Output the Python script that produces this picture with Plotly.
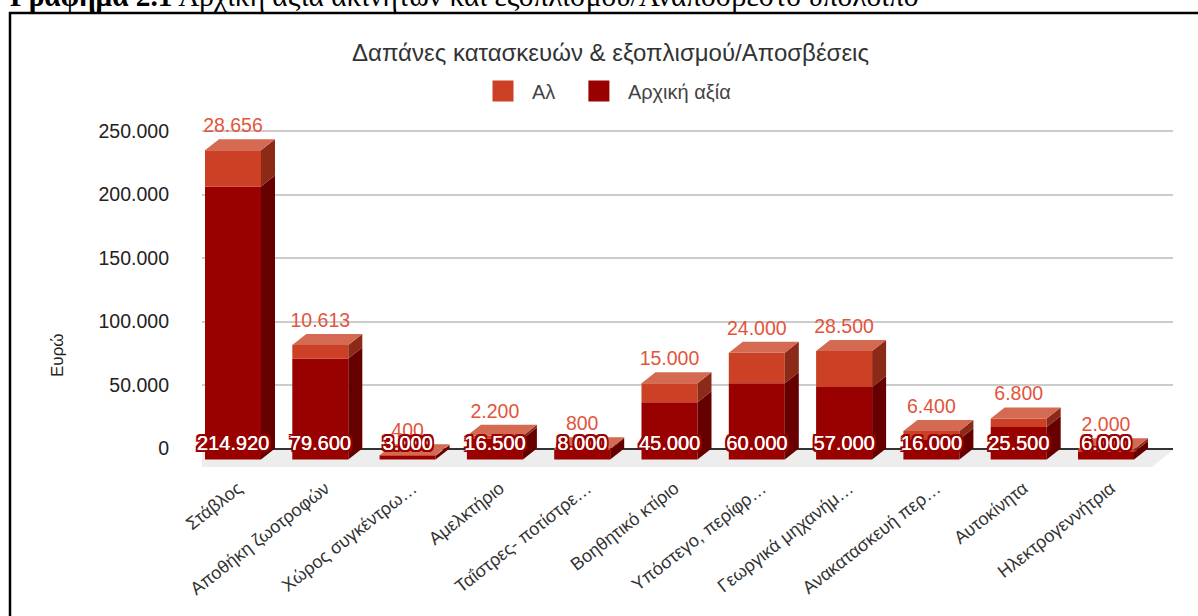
import plotly.graph_objects as go

categories = ["Στάβλος", "Αποθήκη ζωοτροφών", "Χώρος συγκέντρω…", "Αμελκτήριο", "Ταΐστρες- ποτίστρε…",
              "Βοηθητικό κτίριο", "Υπόστεγο, περίφρ…", "Γεωργικά μηχανήμ…", "Ανακατασκευή περ…",
              "Αυτοκίνητα", "Ηλεκτρογεννήτρια"]
initial_value = [214920, 79600, 3000, 16500, 8000, 45000, 60000, 57000, 16000, 25500, 6000]
al_value = [28656, 10613, 400, 2200, 800, 15000, 24000, 28500, 6400, 6800, 2000]
y_ticks = [0, 50000, 100000, 150000, 200000, 250000]

W, H = 1198, 616
FONT = "Liberation Sans"
RED, DARK = "#cc4125", "#990000"
RED_TOP, RED_SIDE, DARK_SIDE = "#d46a52", "#8a2a17", "#660000"

# pixel geometry of the plot area
PX_L, PX_R, PX_T, PX_B = 202, 1173, 131, 468.5
PX_TOP_ROOM = 100           # room above the top gridline so the tallest label is kept
PX_ZERO = 448.5
UNIT_PER_PX = 250000 / (PX_ZERO - PX_T)
X_PER_PX = 1 / 87.3
X0_PX = 233
DX = 14 * X_PER_PX          # 3D depth on x
DY = 11 * UNIT_PER_PX       # 3D depth on y
BAR_W = 56 * X_PER_PX

idx = list(range(len(categories)))
fmt = lambda v: f"{v:,}".replace(",", ".")
tops = [a + b for a, b in zip(initial_value, al_value)]


def side_faces(lo, hi):
    xs, ys = [], []
    for i, a, b in zip(idx, lo, hi):
        r = i + BAR_W / 2
        xs += [r, r + DX, r + DX, r, r, None]
        ys += [a - DY, a, b, b - DY, a - DY, None]
    return xs, ys


def top_faces(t):
    xs, ys = [], []
    for i, v in zip(idx, t):
        l, r = i - BAR_W / 2, i + BAR_W / 2
        xs += [l, r, r + DX, l + DX, l, None]
        ys += [v - DY, v - DY, v, v, v - DY, None]
    return xs, ys


fig = go.Figure()
fig.add_bar(x=idx, y=initial_value, base=[-DY] * len(idx), width=BAR_W,
            marker=dict(color=DARK, line_width=0), showlegend=False, name="Αρχική αξία")
fig.add_bar(x=idx, y=al_value, base=[v - DY for v in initial_value], width=BAR_W,
            marker=dict(color=RED, line_width=0), showlegend=False, name="Αλ")

sx, sy = side_faces([0] * len(idx), initial_value)
fig.add_scatter(x=sx, y=sy, mode="lines", fill="toself", fillcolor=DARK_SIDE, line_width=0,
                showlegend=False, hoverinfo="skip")
sx, sy = side_faces(initial_value, tops)
fig.add_scatter(x=sx, y=sy, mode="lines", fill="toself", fillcolor=RED_SIDE, line_width=0,
                showlegend=False, hoverinfo="skip")
tx, ty = top_faces(tops)
fig.add_scatter(x=tx, y=ty, mode="lines", fill="toself", fillcolor=RED_TOP, line_width=0,
                showlegend=False, hoverinfo="skip")

# data labels
fig.add_scatter(x=idx, y=[v + 12 * UNIT_PER_PX for v in tops], mode="text",
                text=[fmt(v) for v in al_value], textposition="middle center", cliponaxis=False,
                textfont=dict(family=FONT, size=19.5, color="#e2553c"), showlegend=False)
offs = [(-2, 0), (2, 0), (0, -2), (0, 2), (-2, -2), (2, -2), (-2, 2), (2, 2)]
halo = ",".join(["0.3px 0 0 #fff"]
                + [f"{x}px {y}px 0 {DARK}" for x, y in offs])
fig.add_scatter(x=idx, y=[3.5 * UNIT_PER_PX] * len(idx), mode="text",
                text=[fmt(v) for v in initial_value], textposition="middle center", cliponaxis=False,
                textfont=dict(family=FONT, size=20, color="#ffffff", shadow=halo), showlegend=False)

# legend entries
for name, col in [("Αλ\u00a0\u2009", RED), ("Αρχική αξία", DARK)]:
    fig.add_scatter(x=[None], y=[None], mode="markers", name=name,
                    marker=dict(symbol="square", size=16, color=col, line=dict(color=col, width=5)))

# invisible full-page axes, used only to place the clipped caption by page position
fig.add_scatter(x=[None], y=[None], xaxis="x2", yaxis="y2", showlegend=False, hoverinfo="skip")

x_lo = (PX_L - X0_PX) * X_PER_PX
x_hi = (PX_R - X0_PX) * X_PER_PX
fig.update_layout(
    width=W, height=H, autosize=False, margin=dict(l=0, r=0, t=0, b=0),
    paper_bgcolor="white", plot_bgcolor="rgba(0,0,0,0)", separators=",.",
    barmode="overlay",
    font=dict(family=FONT, color="#222222"),
    title=dict(text="Δαπάνες κατασκευών & εξοπλισμού/Αποσβέσεις", xref="paper", yref="container",
               x=610.5 / W, xanchor="center", y=1 - 53 / H, yanchor="middle",
               font=dict(family=FONT, size=24, color="#333333")),
    legend=dict(orientation="h", x=474 / W, xanchor="left", y=1 - 91 / H, yanchor="middle",
                itemsizing="trace", itemwidth=48,
                font=dict(family=FONT, size=20, color="#444444"), bgcolor="rgba(0,0,0,0)"),
    xaxis=dict(domain=[PX_L / W, PX_R / W], range=[x_lo, x_hi], showgrid=False, zeroline=False, automargin=False,
               tickmode="array", tickvals=[i + 5 * X_PER_PX for i in idx], ticktext=categories,
               tickangle=-38, ticks="", showline=False, ticklabelstandoff=5,
               tickfont=dict(family=FONT, size=18, color="#333333")),
    yaxis=dict(domain=[1 - PX_B / H, 1 - PX_TOP_ROOM / H],
               range=[-(PX_B - PX_ZERO) * UNIT_PER_PX, (PX_ZERO - PX_TOP_ROOM) * UNIT_PER_PX], automargin=False,
               tickmode="array", tickvals=y_ticks, tickformat=",d", showgrid=True, gridcolor="#cccccc", gridwidth=1.5,
               zeroline=True, zerolinecolor="#333333", zerolinewidth=1.5, ticks="", showline=False,
               ticklabelstandoff=32, tickfont=dict(family=FONT, size=19.5, color="#222222")),
    xaxis2=dict(domain=[0, 1], range=[0, W], visible=False, anchor="y2", automargin=False),
    yaxis2=dict(domain=[0, 1], range=[H, 0], visible=False, anchor="x2", automargin=False),
    shapes=[
        dict(type="path", layer="below", xref="x", yref="y",
             path=f"M {(180 - X0_PX) * X_PER_PX} {-18.5 * UNIT_PER_PX} L {(1152 - X0_PX) * X_PER_PX} {-18.5 * UNIT_PER_PX} "
                  f"L {x_hi} {-1.5 * UNIT_PER_PX} L {x_lo} {-1.5 * UNIT_PER_PX} Z",
             fillcolor="#ededed", line_width=0),
        dict(type="line", xref="paper", yref="paper", x0=9 / W, x1=1, y0=1 - 13 / H, y1=1 - 13 / H,
             line=dict(color="black", width=2.5)),
        dict(type="line", xref="paper", yref="paper", x0=10 / W, x1=10 / W, y0=0, y1=1 - 12 / H,
             line=dict(color="black", width=2.5)),
    ],
    annotations=[
        dict(text="Ευρώ", xref="paper", yref="paper", x=57 / W, y=1 - 355 / H, textangle=-90,
             xanchor="center", yanchor="middle",
             showarrow=False, font=dict(family=FONT, size=17, color="#222222")),
        dict(text="<b>Γράφημα 2.1</b> Αρχική αξία ακινήτων και εξοπλισμού/Αναπόσβεστο υπόλοιπο",
             xref="x2", yref="y2", x=8, y=14, xanchor="left", yanchor="bottom",
             showarrow=False, font=dict(family="Liberation Serif", size=29.3, color="black")),
    ],
)
fig.write_html(
    "out.html",
    config={"displayModeBar": False},
    post_script=("document.documentElement.style.margin='0';document.body.style.margin='0';"
                 "document.body.style.overflow='hidden';"),
)
